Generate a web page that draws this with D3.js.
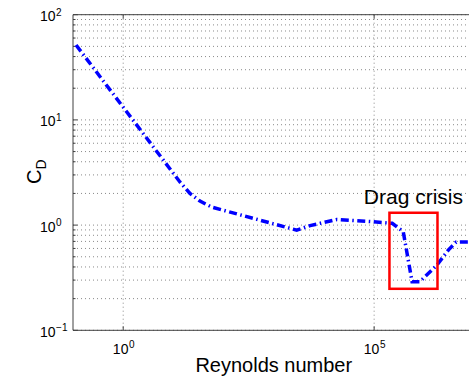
<!DOCTYPE html>
<html>
<head>
<meta charset="utf-8">
<script src="https://cdn.jsdelivr.net/npm/d3@7"></script>
<style>
  body { margin: 0; background: #fff; }
  svg { display: block; }
  text { font-family: "Liberation Sans", Arial, Helvetica, sans-serif; fill: #000; }
</style>
</head>
<body>
<svg id="chart" width="469" height="378"></svg>
<script>
// Sphere drag coefficient vs Reynolds number
const reynolds = [0.115, 13.5, 21.4, 33.9, 58.7, 107, 2870, 5300, 18000, 95500, 2.29e5, 3.8e5, 5.7e5, 8.2e5, 1.78e6, 3.0e6, 4.3e6, 1e7];
const dragCoef = [51.5, 2.57, 2.0, 1.69, 1.48, 1.37, 0.896, 0.989, 1.13, 1.075, 1.04, 0.867, 0.29, 0.29, 0.416, 0.578, 0.689, 0.693];

const xTickValues = [1, 1e5];
const yTickValues = [0.1, 1, 10, 100];

// Box around the drag-crisis region (Re range, Cd range)
const crisisRe = [2.02e5, 1.83e6];
const crisisCd = [0.248, 1.31];
const annotationText = "Drag crisis";
const xTitle = "Reynolds number";
const yTitleMain = "C";
const yTitleSub = "D";

const svg = d3.select("#chart");
const x = d3.scaleLog().domain([0.1, 1e7]).range([73, 474.5]);
const y = d3.scaleLog().domain([0.1, 100]).range([330.3, 14.7]);
const [x0, x1] = x.range();
const [yb, yt] = y.range();

const axisColor = "#404040";
const gridColor = "#8a8a8a";

// minor + major horizontal grid positions (1..9 per decade)
const yGridValues = [];
for (let e = -1; e < 2; e++) for (let k = 1; k < 10; k++) yGridValues.push(k * Math.pow(10, e));
yGridValues.push(100);

const grid = svg.append("g");
grid.selectAll("line.h").data(yGridValues).join("line")
  .attr("class", "h")
  .attr("x1", x0).attr("x2", x1)
  .attr("y1", d => y(d)).attr("y2", d => y(d))
  .attr("stroke", gridColor).attr("stroke-width", 1)
  .attr("stroke-dasharray", "1,3");
grid.selectAll("line.v").data(xTickValues).join("line")
  .attr("class", "v")
  .attr("x1", d => x(d)).attr("x2", d => x(d))
  .attr("y1", yt).attr("y2", yb)
  .attr("stroke", gridColor).attr("stroke-width", 1)
  .attr("stroke-dasharray", "1,3");

// axes frame (left, bottom, top)
const frame = svg.append("g").attr("stroke", axisColor).attr("stroke-width", 1).attr("fill", "none");
frame.append("line").attr("x1", x0).attr("x2", x0).attr("y1", yt).attr("y2", yb);
frame.append("line").attr("x1", x0).attr("x2", x1).attr("y1", yb).attr("y2", yb);
frame.append("line").attr("x1", x0).attr("x2", x1).attr("y1", yt).attr("y2", yt);

// y ticks: major and minor, pointing inward
frame.selectAll("line.yt").data(yGridValues).join("line")
  .attr("class", "yt")
  .attr("x1", x0).attr("x2", d => x0 + (yTickValues.includes(d) ? 4.5 : 2.5))
  .attr("y1", d => y(d)).attr("y2", d => y(d));
// x ticks on bottom and top
frame.selectAll("line.xb").data(xTickValues).join("line")
  .attr("class", "xb")
  .attr("x1", d => x(d)).attr("x2", d => x(d))
  .attr("y1", yb).attr("y2", yb - 4);
frame.selectAll("line.xtop").data(xTickValues).join("line")
  .attr("class", "xtop")
  .attr("x1", d => x(d)).attr("x2", d => x(d))
  .attr("y1", yt).attr("y2", yt + 4);

const expText = v => {
  const e = Math.round(Math.log10(v));
  return e < 0 ? "\u2212" + (-e) : String(e);
};

// y tick labels 10^n
const yLab = svg.append("g").selectAll("text").data(yTickValues).join("text")
  .attr("x", 40).attr("y", d => y(d) + 6.5)
  .attr("font-size", 14);
yLab.append("tspan").text("10");
yLab.append("tspan").attr("dy", -5.5).attr("dx", 0.5).attr("font-size", 10).text(d => expText(d));

// x tick labels 10^n
const xLab = svg.append("g").selectAll("text").data(xTickValues).join("text")
  .attr("x", d => x(d) + 0.5).attr("y", yb + 24)
  .attr("text-anchor", "middle")
  .attr("font-size", 14);
xLab.append("tspan").text("10");
xLab.append("tspan").attr("dy", -6).attr("dx", 0.5).attr("font-size", 10).text(d => expText(d));

// drag curve
const pts = reynolds.map((r, i) => [r, dragCoef[i]]);
svg.append("path")
  .datum(pts)
  .attr("d", d3.line().x(d => x(d[0])).y(d => y(d[1])))
  .attr("fill", "none")
  .attr("stroke", "#0000ff")
  .attr("stroke-width", 3.5)
  .attr("stroke-dasharray", "8,3.5,1.5,3.5");

// drag crisis box + label
svg.append("rect")
  .attr("x", x(crisisRe[0])).attr("y", y(crisisCd[1]))
  .attr("width", x(crisisRe[1]) - x(crisisRe[0]))
  .attr("height", y(crisisCd[0]) - y(crisisCd[1]))
  .attr("fill", "none").attr("stroke", "#ff0000").attr("stroke-width", 2.5);
svg.append("text")
  .attr("x", (x(crisisRe[0]) + x(crisisRe[1])) / 2).attr("y", 204)
  .attr("text-anchor", "middle").attr("font-size", 21)
  .text(annotationText);

// axis titles
svg.append("text")
  .attr("x", (x0 + x1) / 2).attr("y", 371.5)
  .attr("text-anchor", "middle").attr("font-size", 20)
  .text(xTitle);
const yt1 = svg.append("text")
  .attr("transform", "translate(41,184) rotate(-90)")
  .attr("font-size", 20);
yt1.append("tspan").text(yTitleMain);
yt1.append("tspan").attr("dy", 5).attr("font-size", 14).text(yTitleSub);
</script>
</body>
</html>
